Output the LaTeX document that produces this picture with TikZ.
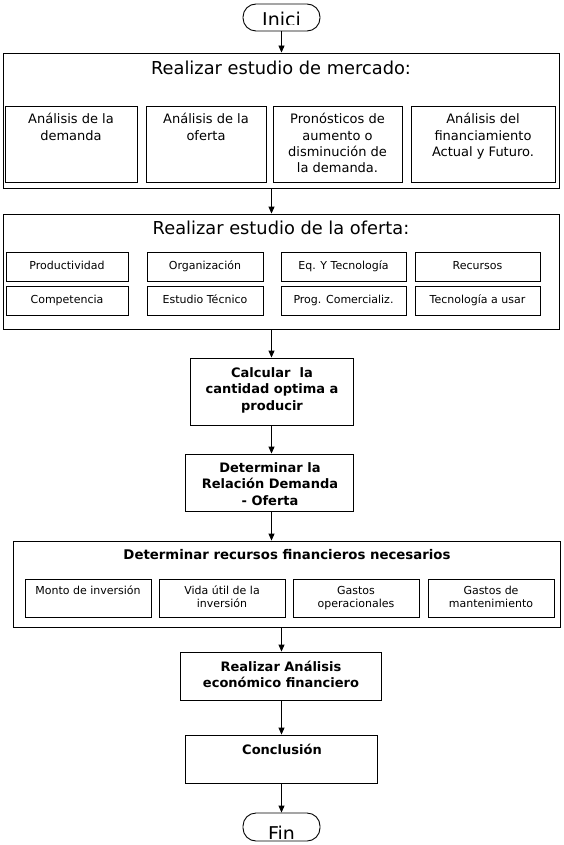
\documentclass[tikz,border=0pt]{standalone}
\usepackage{fontspec}
\setmainfont{DejaVu Sans}
\usetikzlibrary{arrows.meta,fit}
\begin{document}
\begin{tikzpicture}[x=1pt,y=-1pt,
  box/.style={draw, inner sep=0pt, line width=0.9pt},
  pill/.style={draw, inner sep=0pt, line width=0.9pt, rounded corners=13pt},
  arr/.style={line width=0.9pt, -{Triangle[width=6pt,length=7pt]}},
  tA/.style={font=\fontsize{17.8}{20}\selectfont, inner sep=0pt, anchor=base},
  tB/.style={font=\fontsize{13}{16.3}\selectfont, align=center, inner sep=0pt, anchor=base},
  tC/.style={font=\fontsize{11}{13.5}\selectfont, align=center, inner sep=0pt, anchor=base},
  tD/.style={font=\bfseries\fontsize{13}{16.5}\selectfont, align=center, inner sep=0pt, anchor=base},
  tE/.style={font=\bfseries\fontsize{13.3}{15}\selectfont, inner sep=0pt, anchor=base}]
\useasboundingbox[fill=white] (0,0) rectangle (564,845);

% Inici
\node[pill, fit={(243,4) (320,31)}] (inici) {};
\begin{scope}
  \clip (240,0) rectangle (323,25);
  \node[tA, font=\fontsize{19}{20}\selectfont] (inicit) at (281.5,27) {Inici};
\end{scope}

% Section 1
\node[box, fit={(3,53) (559,188)}] (s1) {};
\node[tA] (s1t) at (281,75) {Realizar estudio de mercado:};
\node[box, fit={(5,106) (137,182)}] (m1) {};
\node[box, fit={(146,106) (266,182)}] (m2) {};
\node[box, fit={(273,106) (402,182)}] (m3) {};
\node[box, fit={(411,106) (555,182)}] (m4) {};
\node[tB] (m1t) at (m1.center |- 0,140.3) {Análisis de la\\demanda};
\node[tB] (m2t) at (m2.center |- 0,140.3) {Análisis de la\\oferta};
\node[tB] (m3t) at (m3.center |- 0,172.9) {Pronósticos de\\aumento o\\disminución de\\la demanda.};
\node[tB] (m4t) at (m4.center |- 0,156.6) {Análisis del\\financiamiento\\Actual y Futuro.};

% Section 2
\node[box, fit={(3,214) (559,329)}] (s2) {};
\node[tA] (s2t) at (281,234) {Realizar estudio de la oferta:};
\node[box, fit={(6,252) (128,281)}] (o1) {};
\node[box, fit={(147,252) (263,281)}] (o2) {};
\node[box, fit={(281,252) (406,281)}] (o3) {};
\node[box, fit={(415,252) (540,281)}] (o4) {};
\node[box, fit={(6,286) (128,315)}] (o5) {};
\node[box, fit={(147,286) (263,315)}] (o6) {};
\node[box, fit={(281,286) (406,315)}] (o7) {};
\node[box, fit={(415,286) (540,315)}] (o8) {};
\node[tC] (o1t) at (o1.center |- 0,269) {Productividad};
\node[tC] (o2t) at (o2.center |- 0,269) {Organización};
\node[tC] (o3t) at (o3.center |- 0,269) {Eq. Y Tecnología};
\node[tC] (o4t) at (o4.center |- 0,269) {Recursos};
\node[tC] (o5t) at (o5.center |- 0,303) {Competencia};
\node[tC] (o6t) at (o6.center |- 0,303) {Estudio Técnico};
\node[tC] (o7t) at (o7.center |- 0,303) {Prog. Comercializ.};
\node[tC] (o8t) at (o8.center |- 0,303) {Tecnología a usar};

% Calcular
\node[box, fit={(190,358) (353,425)}] (calc) {};
\node[tD] (calct) at (272,410) {Calcular\ \ la\\cantidad optima a\\producir};

% Determinar
\node[box, fit={(185,454) (353,511)}] (det) {};
\node[tD] (dett) at (270,505) {Determinar la\\Relación Demanda\\- Oferta};

% Section 3
\node[box, fit={(13,541) (560,627)}] (s3) {};
\node[tE] (s3t) at (287,559) {Determinar recursos financieros necesarios};
\node[box, fit={(25,579) (151,617)}] (f1) {};
\node[box, fit={(159,579) (285,617)}] (f2) {};
\node[box, fit={(293,579) (419,617)}] (f3) {};
\node[box, fit={(428,579) (554,617)}] (f4) {};
\node[tC] (f1t) at (f1.center |- 0,594) {Monto de inversión};
\node[tC] (f2t) at (f2.center |- 0,607.5) {Vida útil de la\\inversión};
\node[tC] (f3t) at (f3.center |- 0,607.5) {Gastos\\operacionales};
\node[tC] (f4t) at (f4.center |- 0,607.5) {Gastos de\\mantenimiento};

% Realizar análisis
\node[box, fit={(180,652) (381,700)}] (real) {};
\node[tD] (realt) at (281,687.5) {Realizar Análisis\\económico financiero};

% Conclusión
\node[box, fit={(185,735) (377,783)}] (conc) {};
\node[tD] (conct) at (282,754) {Conclusión};

% Fin
\node[pill, fit={(243,813) (320,841)}] (fin) {};
\begin{scope}
  \clip (240,805) rectangle (323,838);
  \node[tA, font=\fontsize{19}{20}\selectfont] (fint) at (281.5,840) {Fin};
\end{scope}

% connectors
\draw[arr] (inici.south) -- (s1.north -| inici.south);
\draw[arr] (s1.south -| calc.north) -- (s2.north -| calc.north);
\draw[arr] (s2.south -| calc.north) -- (calc.north);
\draw[arr] (calc.south) -- (det.north -| calc.south);
\draw[arr] (det.south -| calc.south) -- (s3.north -| calc.south);
\draw[arr] (s3.south -| inici.south) -- (real.north -| inici.south);
\draw[arr] (real.south -| inici.south) -- (conc.north -| inici.south);
\draw[arr] (conc.south -| inici.south) -- (fin.north -| inici.south);
\end{tikzpicture}
\end{document}
